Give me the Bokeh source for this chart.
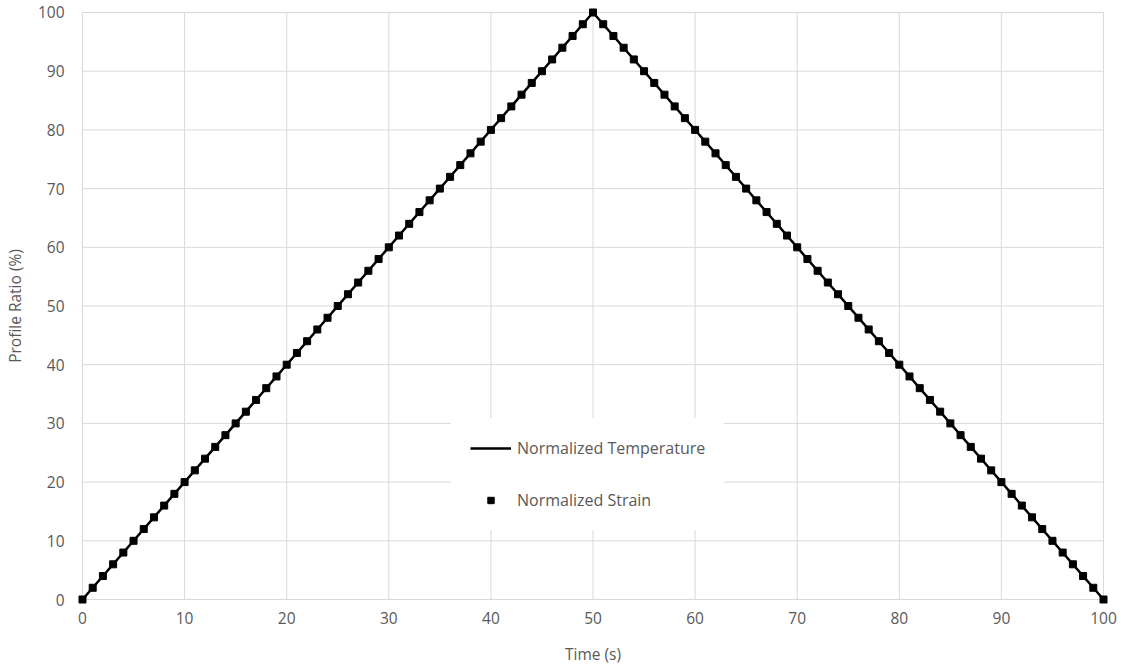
from bokeh.plotting import figure
from bokeh.models import Range1d, FixedTicker, Legend, LegendItem
from bokeh.embed import file_html
from bokeh.resources import INLINE

# ---- data ----
temp_time = [0, 50, 100]
temp_ratio = [0, 100, 0]

strain_time = [0, 1, 2, 3, 4, 5, 6, 7, 8, 9, 10, 11, 12, 13, 14, 15, 16, 17, 18, 19, 20,
               21, 22, 23, 24, 25, 26, 27, 28, 29, 30, 31, 32, 33, 34, 35, 36, 37, 38, 39, 40,
               41, 42, 43, 44, 45, 46, 47, 48, 49, 50, 51, 52, 53, 54, 55, 56, 57, 58, 59, 60,
               61, 62, 63, 64, 65, 66, 67, 68, 69, 70, 71, 72, 73, 74, 75, 76, 77, 78, 79, 80,
               81, 82, 83, 84, 85, 86, 87, 88, 89, 90, 91, 92, 93, 94, 95, 96, 97, 98, 99, 100]
strain_ratio = [0, 2, 4, 6, 8, 10, 12, 14, 16, 18, 20, 22, 24, 26, 28, 30, 32, 34, 36, 38, 40,
                42, 44, 46, 48, 50, 52, 54, 56, 58, 60, 62, 64, 66, 68, 70, 72, 74, 76, 78, 80,
                82, 84, 86, 88, 90, 92, 94, 96, 98, 100, 98, 96, 94, 92, 90, 88, 86, 84, 82, 80,
                78, 76, 74, 72, 70, 68, 66, 64, 62, 60, 58, 56, 54, 52, 50, 48, 46, 44, 42, 40,
                38, 36, 34, 32, 30, 28, 26, 24, 22, 20, 18, 16, 14, 12, 10, 8, 6, 4, 2, 0]

x_ticks = [0, 10, 20, 30, 40, 50, 60, 70, 80, 90, 100]
y_ticks = [0, 10, 20, 30, 40, 50, 60, 70, 80, 90, 100]

# ---- style ----
FONT = "Open Sans"
TXT = "#595959"
GRID = "#d9d9d9"
FS = "15.5px"
LFS = "16px"
xpad = 0.587
ypad = 1.02

p = figure(width=1124, height=669, output_backend="svg", toolbar_location=None,
           x_range=Range1d(x_ticks[0] - xpad, x_ticks[-1] + xpad),
           y_range=Range1d(y_ticks[0] - ypad, y_ticks[-1] + ypad),
           min_border_left=75, min_border_right=15, min_border_top=6, min_border_bottom=64)
p.outline_line_color = None
p.xgrid.visible = False
p.ygrid.visible = False
p.background_fill_color = "white"
p.border_fill_color = "white"

# gridlines bounded to the data extent
p.segment(x0=x_ticks, x1=x_ticks, y0=[y_ticks[0]] * len(x_ticks), y1=[y_ticks[-1]] * len(x_ticks),
          line_color=GRID, line_width=1)
p.segment(x0=[x_ticks[0]] * len(y_ticks), x1=[x_ticks[-1]] * len(y_ticks), y0=y_ticks, y1=y_ticks,
          line_color=GRID, line_width=1)

for ax in (p.xaxis[0], p.yaxis[0]):
    ax.axis_line_color = None
    ax.major_tick_line_color = None
    ax.minor_tick_line_color = None
    ax.major_tick_out = 0
    ax.major_tick_in = 0
    ax.minor_tick_out = 0
    ax.minor_tick_in = 0
    ax.major_label_text_font = FONT
    ax.major_label_text_font_size = FS
    ax.major_label_text_color = TXT
    ax.axis_label_text_font = FONT
    ax.axis_label_text_font_size = FS
    ax.axis_label_text_color = TXT
    ax.axis_label_text_font_style = "normal"

p.xaxis.ticker = FixedTicker(ticks=x_ticks)
p.yaxis.ticker = FixedTicker(ticks=y_ticks)
p.xaxis.axis_label = "Time (s)"
p.yaxis.axis_label = "Profile Ratio (%)"
p.xaxis.major_label_standoff = 6
p.yaxis.major_label_standoff = 12
p.xaxis.axis_label_standoff = 16
p.yaxis.axis_label_standoff = 9

r_line = p.line(temp_time, temp_ratio, line_color="black", line_width=2.5)
r_mark = p.scatter(strain_time, strain_ratio, marker="square", size=7,
                   fill_color="black", line_color="black")

legend = Legend(items=[LegendItem(label="Normalized Temperature", renderers=[r_line]),
                       LegendItem(label="Normalized Strain", renderers=[r_mark])],
                location=(375, 75), orientation="vertical")
legend.border_line_color = "white"
legend.border_line_width = 1
legend.background_fill_color = "white"
legend.background_fill_alpha = 1.0
legend.label_text_font = FONT
legend.label_text_font_size = LFS
legend.label_text_color = TXT
legend.glyph_width = 41
legend.glyph_height = 16
legend.spacing = 30
legend.padding = 18
legend.margin = 0
legend.label_standoff = 6
p.add_layout(legend, "center")

open("out.html", "w").write(file_html(p, INLINE))
